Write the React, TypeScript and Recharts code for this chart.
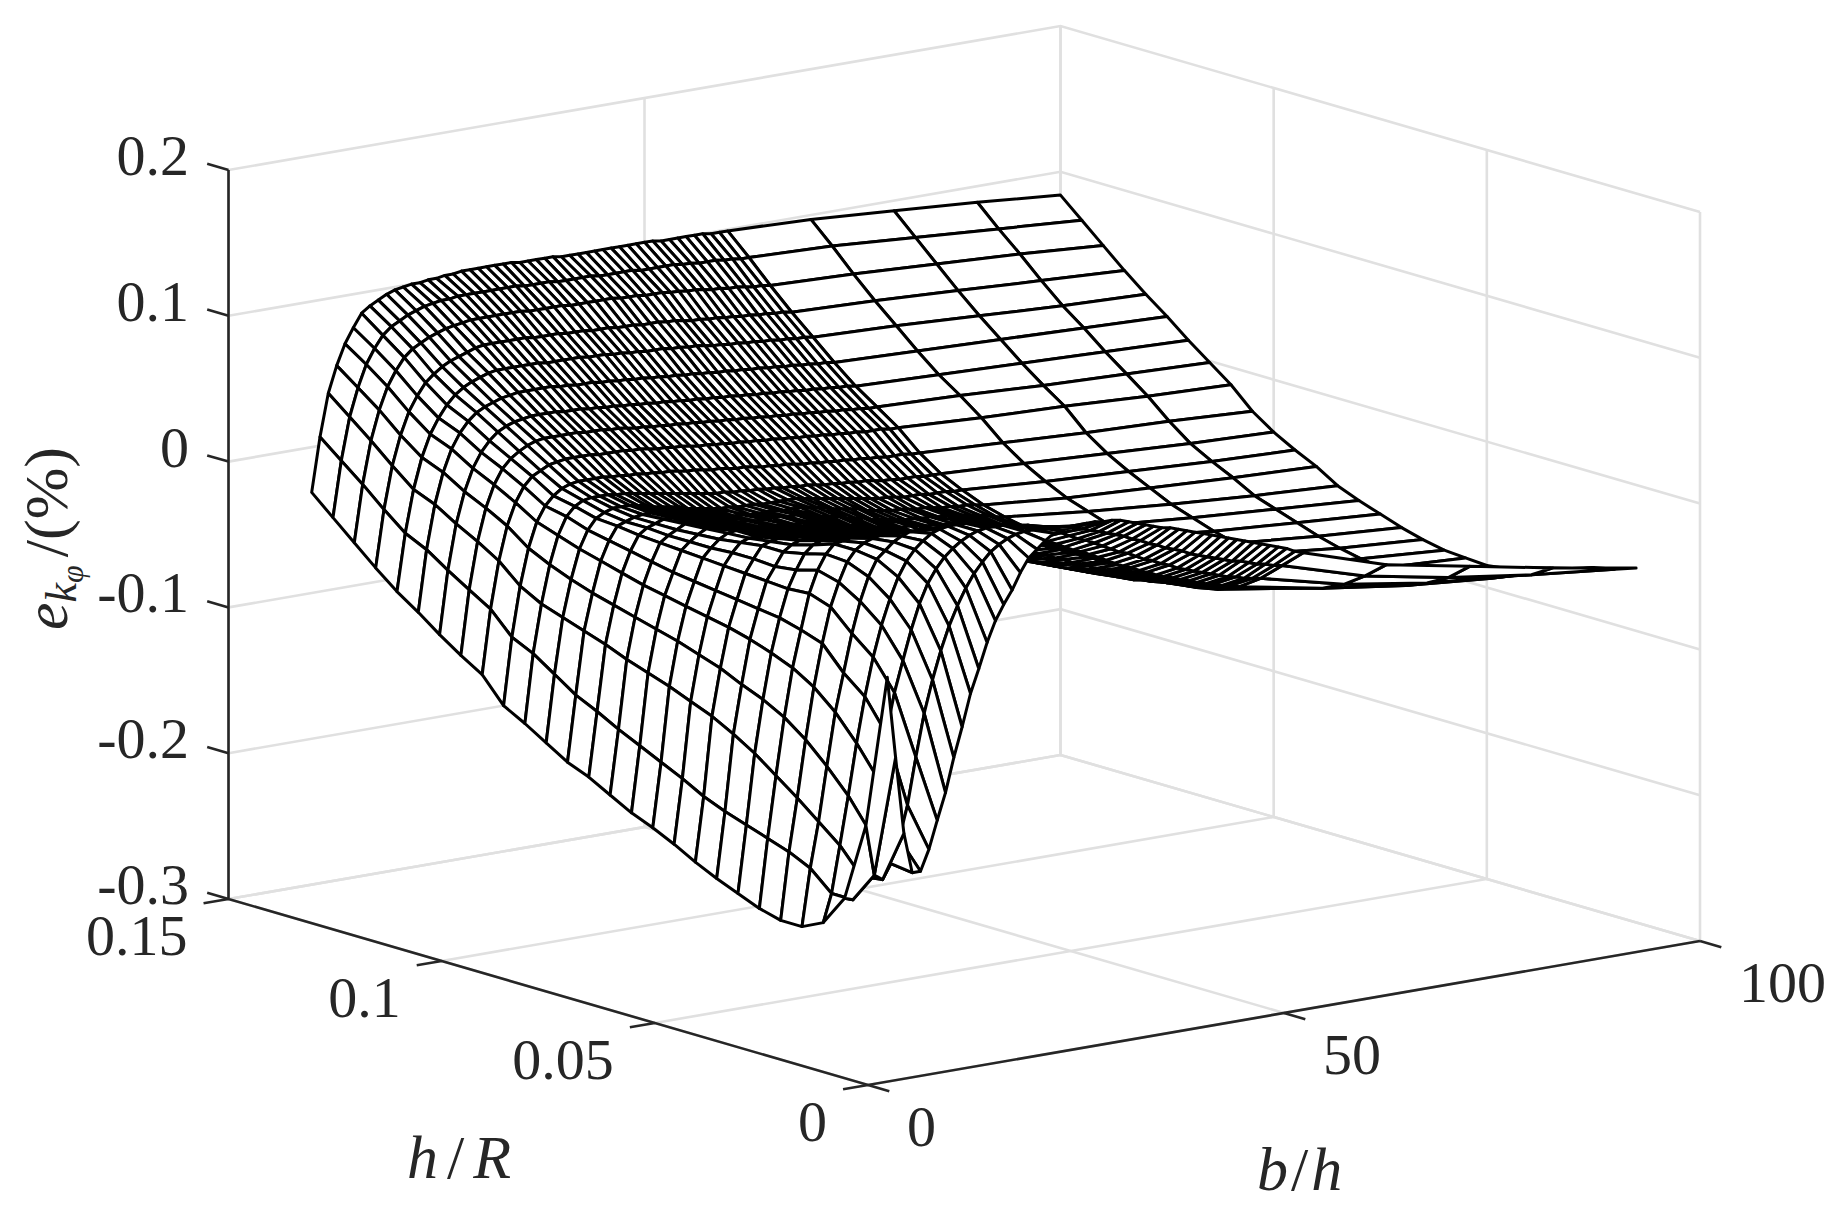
import { ScatterChart, Scatter, XAxis, YAxis } from 'recharts';

const WIDTH = 1844;
const HEIGHT = 1215;

const bTicks = [0, 50, 100];
const hTicks = [0, 0.05, 0.1, 0.15];
const zTicks = [-0.3, -0.2, -0.1, 0, 0.1, 0.2];

// mesh columns (b/h)
const bValues = [
  10, 11, 12, 13, 14, 15, 16, 17, 18, 19, 20, 21, 22, 23, 24, 25, 26, 27, 28, 29,
  30, 31, 32, 33, 34, 35, 36, 37, 38, 39, 40, 41, 42, 43, 44, 45, 46, 47, 48, 49,
  50, 51, 52, 53, 54, 55, 56, 57, 58, 59, 60, 70, 80, 90, 100,
];

// mesh rows (h/R), back to front
const hValues = [
  0.15, 0.145, 0.14, 0.135, 0.13, 0.125, 0.12, 0.115, 0.11, 0.105, 0.1, 0.095, 0.09, 0.085,
  0.08, 0.075, 0.07, 0.065, 0.06, 0.055, 0.05, 0.045, 0.04, 0.035, 0.03, 0.025, 0.02, 0.015,
];

// e_k values, in thousandths of a percent
const zRows = [
  [-31,6,35,53,67,77,86,90,93,96, 98,99,100,100,101,101,102,102,103,103, 103,103,103,103,103,102,102,102,102,102, 101,101,101,101,101,101,101,101,101,101, 101,101,100,100,100,100,100,100,99,99, 99,97,93,89,84],
  [-44,-6,23,42,57,67,75,80,83,86, 88,90,91,92,92,93,93,93,93,93, 93,93,93,92,92,92,92,91,91,91, 91,91,90,90,90,90,90,89,89,89, 89,89,88,88,87,87,87,86,86,85, 85,83,79,75,71],
  [-57,-18,11,31,46,56,64,69,72,75, 77,79,80,81,82,82,82,82,82,82, 82,81,81,81,81,81,80,80,80,80, 80,80,79,79,79,78,78,78,77,77, 76,76,75,74,74,73,73,72,71,71, 70,68,65,62,58],
  [-70,-31,-2,18,33,43,51,56,60,63, 65,67,69,70,70,70,70,70,70,69, 69,69,69,68,68,68,67,67,67,66, 66,66,65,65,65,64,64,63,62,62, 61,61,60,60,59,59,58,58,57,57, 56,54,51,48,45],
  [-82,-43,-14,7,22,32,40,46,50,53, 55,57,58,58,58,58,58,58,57,57, 57,57,57,56,56,56,55,55,54,54, 53,53,53,52,52,51,51,50,49,49, 48,48,47,47,46,46,45,45,44,44, 43,41,38,35,33],
  [-92,-50,-20,1,16,26,33,38,41,43, 45,46,47,47,47,47,47,46,46,45, 45,45,44,44,43,43,42,42,41,41, 40,40,39,39,38,38,37,37,36,36, 35,35,34,34,33,33,32,32,31,31, 30,28,26,24,22],
  [-103,-60,-29,-8,7,17,24,29,32,34, 35,36,36,36,36,35,35,35,34,34, 33,33,32,32,31,31,30,30,29,29, 28,28,27,27,26,26,25,25,24,24, 23,23,22,22,21,21,20,20,19,19, 18,16,14,12,10],
  [-113,-69,-37,-15,0,10,16,20,23,25, 26,26,26,26,26,25,25,25,24,24, 23,22,22,21,21,20,20,19,19,18, 18,17,17,16,16,15,15,14,14,13, 13,12,12,11,11,10,10,9,9,8, 8,6,3,1,-1],
  [-122,-78,-46,-23,-8,2,8,11,14,15, 16,16,16,16,15,15,15,15,14,14, 13,12,12,11,11,10,9,9,8,8, 7,7,6,6,5,5,4,4,3,3, 2,2,1,1,0,0,-1,-1,-1,-2, -2,-5,-7,-10,-12],
  [-139,-93,-59,-34,-17,-7,-1,3,5,6, 6,6,6,5,5,4,4,3,3,2, 2,1,0,0,-1,-2,-2,-3,-4,-4, -5,-6,-6,-7,-7,-8,-9,-9,-10,-10, -11,-11,-12,-12,-13,-13,-14,-14,-14,-15, -15,-18,-21,-23,-26],
  [-147,-100,-67,-41,-22,-10,-4,-1,0,0, 0,-1,-1,-2,-3,-4,-5,-6,-7,-8, -9,-10,-11,-12,-12,-13,-13,-14,-14,-15, -15,-16,-16,-17,-17,-18,-19,-19,-20,-20, -21,-21,-22,-23,-23,-24,-24,-24,-25,-25, -25,-28,-31,-34,-36],
  [-156,-110,-72,-47,-27,-15,-8,-5,-3,-3, -3,-4,-5,-7,-8,-9,-10,-12,-13,-14, -15,-16,-16,-17,-17,-17,-18,-18,-18,-18, -18,-19,-20,-21,-22,-23,-24,-25,-26,-27, -28,-28,-29,-30,-30,-30,-31,-31,-31,-32, -32,-36,-39,-42,-44],
  [-165,-120,-77,-52,-31,-18,-9,-7,-5,-4, -4,-5,-6,-7,-9,-10,-11,-13,-14,-15, -16,-16,-17,-17,-17,-17,-18,-18,-18,-19, -20,-21,-23,-24,-25,-26,-28,-29,-30,-31, -31,-32,-33,-33,-34,-35,-35,-36,-36,-37, -38,-43,-46,-49,-51],
  [-171,-127,-82,-56,-35,-21,-11,-7,-5,-3, -3,-5,-7,-8,-10,-11,-12,-13,-14,-14, -15,-15,-15,-15,-16,-16,-17,-18,-20,-21, -22,-24,-25,-26,-28,-29,-30,-31,-32,-32, -33,-33,-34,-34,-35,-36,-37,-38,-39,-41, -42,-48,-53,-57,-60],
  [-179,-135,-88,-60,-39,-24,-12,-8,-5,-2, -3,-5,-7,-9,-10,-11,-12,-12,-13,-13, -14,-14,-15,-15,-16,-17,-18,-20,-21,-23, -24,-25,-27,-28,-29,-30,-30,-31,-32,-32, -33,-33,-33,-34,-35,-37,-38,-40,-41,-43, -45,-53,-58,-62,-66],
  [-187,-142,-93,-64,-42,-27,-13,-8,-4,-1, -2,-3,-4,-5,-6,-7,-8,-9,-10,-11, -12,-13,-14,-15,-17,-18,-19,-21,-22,-23, -24,-26,-27,-29,-30,-31,-32,-33,-34,-35, -36,-37,-38,-39,-40,-41,-43,-44,-45,-47, -48,-57,-63,-67,-71],
  [-193,-149,-98,-68,-45,-29,-14,-8,-3,0, 1,0,-1,-2,-3,-4,-6,-7,-8,-9, -10,-12,-13,-14,-15,-16,-18,-19,-20,-22, -24,-25,-27,-28,-30,-31,-33,-34,-35,-37, -38,-39,-41,-42,-43,-44,-45,-46,-47,-49, -50,-60,-67,-72,-76],
  [-200,-156,-104,-73,-48,-31,-15,-7,-1,1, 1,1,0,-1,-2,-3,-4,-5,-6,-7, -8,-9,-10,-11,-12,-13,-15,-16,-18,-20, -22,-24,-26,-28,-30,-32,-33,-35,-36,-38, -39,-41,-42,-43,-45,-46,-47,-48,-50,-51, -52,-63,-70,-76,-80],
  [-208,-164,-110,-78,-51,-33,-16,-7,1,3, 4,4,3,2,1,0,-1,-2,-3,-4, -4,-5,-6,-7,-8,-10,-12,-14,-16,-18, -20,-22,-24,-26,-28,-30,-32,-34,-36,-37, -39,-40,-42,-43,-45,-46,-47,-49,-50,-52, -53,-65,-73,-79,-83],
  [-215,-170,-118,-85,-55,-35,-17,-8,1,5, 7,8,8,7,6,5,4,3,2,1, 0,-1,-2,-3,-5,-7,-9,-11,-13,-15, -17,-20,-22,-24,-26,-28,-30,-32,-34,-36, -38,-40,-41,-43,-45,-46,-48,-49,-51,-52, -54,-66,-75,-81,-84],
  [-221,-175,-127,-91,-60,-37,-18,-6,4,9, 11,12,12,11,10,9,8,7,6,5, 4,3,1,0,-2,-4,-6,-9,-11,-13, -16,-18,-21,-23,-25,-28,-30,-32,-34,-36, -38,-40,-42,-44,-45,-47,-49,-50,-52,-53, -54,-67,-76,-82,-85],
  [-227,-180,-138,-99,-66,-41,-17,-2,8,14, 15,16,16,15,15,14,13,12,11,10, 9,7,6,4,2,0,-3,-5,-8,-10, -13,-15,-18,-20,-23,-25,-27,-30,-32,-34, -36,-38,-40,-42,-44,-46,-47,-49,-50,-52, -53,-65,-74,-79,-83],
  [-231,-185,-149,-110,-75,-46,-22,-6,7,14, 18,20,21,21,20,20,19,18,17,16, 14,13,11,9,7,5,3,0,-2,-5, -7,-10,-12,-15,-17,-20,-22,-24,-27,-29, -31,-33,-36,-38,-40,-42,-44,-46,-48,-50, -52,-62,-70,-75,-78],
  [-231,-192,-161,-124,-88,-62,-36,-15,1,12, 17,22,25,27,27,27,26,25,24,23, 21,19,17,15,13,11,9,7,4,2, -1,-3,-6,-8,-11,-13,-16,-18,-20,-23, -25,-28,-30,-32,-35,-37,-39,-42,-44,-47, -49,-58,-66,-71,-74],
  [-224,-205,-173,-140,-105,-74,-48,-27,-10,4, 14,21,26,30,32,33,33,33,32,31, 30,28,25,22,20,17,14,11,8,5, 2,0,-3,-6,-9,-12,-15,-17,-20,-22, -25,-27,-29,-31,-33,-35,-37,-38,-40,-41, -43,-54,-62,-67,-70],
  [-203,-205,-190,-160,-125,-95,-68,-47,-27,-10, 3,12,19,24,28,31,33,34,34,34, 33,32,31,29,27,25,22,19,16,14, 11,8,5,2,0,-3,-6,-8,-11,-13, -16,-18,-20,-22,-24,-26,-28,-29,-31,-32, -33,-47,-56,-61,-65],
  [-149,-184,-188,-178,-162,-140,-108,-79,-57,-38, -22,-9,2,11,18,24,28,31,33,34, 34,34,34,33,32,31,29,27,25,23, 21,19,16,14,11,9,6,4,2,-1, -3,-5,-7,-9,-11,-12,-14,-16,-17,-19, -20,-37,-48,-56,-62],
  [-43,-99,-152,-180,-180,-166,-147,-129,-106,-86, -64,-48,-31,-17,-7,2,13,22,27,32, 36,37,38,38,39,39,38,38,37,35, 33,31,29,27,26,24,22,20,18,16, 14,12,10,8,6,4,2,0,-2,-5, -7,-25,-36,-47,-57],
];

const zTickLabels = ['-0.3', '-0.2', '-0.1', '0', '0.1', '0.2'];
const hTickLabels = ['0', '0.05', '0.1', '0.15'];
const bTickLabels = ['0', '50', '100'];

const INK = '#262626';
const GRID = '#e0e0e0';
const FONT = '"Liberation Serif", serif';

// orthographic view of the box, same for everything drawn
const project = (b: number, h: number, z: number) => ({
  x: 868 + 8.32 * b - 4263.3 * h,
  y: 1085 - 1.44 * b - 1240 * h - 1458 * (z + 0.3),
});

const BMAX = 100;
const HMAX = 0.15;
const ZMIN = -0.3;
const ZMAX = 0.2;

const gridLines = [
  ...bTicks.map(b => [project(b, 0, ZMIN), project(b, HMAX, ZMIN), project(b, HMAX, ZMAX)]),
  ...hTicks.map(h => [project(0, h, ZMIN), project(BMAX, h, ZMIN), project(BMAX, h, ZMAX)]),
  ...zTicks.map(z => [project(0, HMAX, z), project(BMAX, HMAX, z), project(BMAX, 0, z)]),
];

const axisLines = [
  [project(0, HMAX, ZMAX), project(0, HMAX, ZMIN), project(0, 0, ZMIN), project(BMAX, 0, ZMIN)],
  ...zTicks.map(z => [project(0, HMAX, z), project(0, HMAX + 0.005, z)]),
  ...hTicks.map(h => [project(0, h, ZMIN), project(-3, h, ZMIN)]),
  ...bTicks.map(b => [project(b, 0, ZMIN), project(b, -0.005, ZMIN)]),
];

const surfacePoints = hValues.flatMap((h, i) => bValues.map((b, j) => project(b, h, zRows[i][j] / 1000)));

// painter's order: far rows first, right to left inside a row
function renderSurface(props: any) {
  const pts = props.points;
  const nb = bValues.length;
  const quads = [];
  for (let i = 0; i < hValues.length - 1; i++) {
    for (let j = nb - 2; j >= 0; j--) {
      const c = [pts[i * nb + j], pts[i * nb + j + 1], pts[(i + 1) * nb + j + 1], pts[(i + 1) * nb + j]];
      const d = 'M' + c.map(p => `${p.x.toFixed(1)},${p.y.toFixed(1)}`).join('L') + 'Z';
      quads.push(<path key={`${i}-${j}`} d={d} fill="#fff" stroke="#000" strokeWidth={3} strokeLinejoin="round" />);
    }
  }
  return <g>{quads}</g>;
}

const noDot = () => null;

export default function App() {
  const labelStyle = { fontFamily: FONT, fontSize: 58, fill: INK };
  const titleStyle = { fontFamily: FONT, fontSize: 62, fill: INK };
  return (
    <div style={{ position: 'absolute', left: 0, top: 0, width: WIDTH, height: HEIGHT, background: '#fff' }}>
      <ScatterChart width={WIDTH} height={HEIGHT} margin={{ top: 0, right: 0, bottom: 0, left: 0 }}>
        <XAxis type="number" dataKey="x" domain={[0, WIDTH]} hide />
        <YAxis type="number" dataKey="y" domain={[0, HEIGHT]} reversed hide />

        {gridLines.map((line, i) => (
          <Scatter key={`grid-${i}`} data={line} shape={noDot} isAnimationActive={false}
            line={{ stroke: GRID, strokeWidth: 2.6 }} />
        ))}
        {axisLines.map((line, i) => (
          <Scatter key={`axis-${i}`} data={line} shape={noDot} isAnimationActive={false}
            line={{ stroke: INK, strokeWidth: 2.6 }} />
        ))}
        <Scatter data={surfacePoints} shape={noDot} isAnimationActive={false} line={renderSurface} />

        {zTicks.map((z, i) => (
          <text key={`zl-${i}`} x={189} y={project(0, HMAX, z).y + 5} textAnchor="end" {...labelStyle}>
            {zTickLabels[i]}
          </text>
        ))}
        {hTicks.map((h, i) => (
          <text key={`hl-${i}`} x={project(0, h, ZMIN).x - 41} y={project(0, h, ZMIN).y + 56} textAnchor="end" {...labelStyle}>
            {hTickLabels[i]}
          </text>
        ))}
        {bTicks.map((b, i) => (
          <text key={`bl-${i}`} x={project(b, 0, ZMIN).x + 39} y={project(b, 0, ZMIN).y + 61} {...labelStyle}>
            {bTickLabels[i]}
          </text>
        ))}

        <text x={407} y={1178} letterSpacing={9} {...titleStyle}>
          <tspan fontStyle="italic">h</tspan>/<tspan fontStyle="italic">R</tspan>
        </text>
        <text x={1257} y={1190} letterSpacing={3} {...titleStyle}>
          <tspan fontStyle="italic">b</tspan>/<tspan fontStyle="italic">h</tspan>
        </text>
        <text x={67} y={630} transform="rotate(-90 67 630)" {...titleStyle}>
          <tspan fontStyle="italic">e</tspan>
          <tspan fontStyle="italic" fontSize={44} dy={9}>k</tspan>
          <tspan fontStyle="italic" fontSize={32} dy={7}>φ</tspan>
          <tspan dy={-16} dx={8}>/(%)</tspan>
        </text>
      </ScatterChart>
    </div>
  );
}
